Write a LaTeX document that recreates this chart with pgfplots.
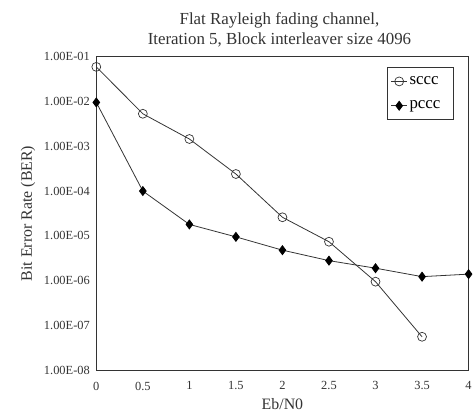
\documentclass[border=0pt]{standalone}
\usepackage{fontspec}
\setmainfont{Liberation Serif}
\usepackage{pgfplots}
\pgfplotsset{compat=1.18}

\definecolor{ink}{HTML}{333333}

\begin{document}
\begin{tikzpicture}
\begin{axis}[
  at={(0pt,0pt)}, anchor=south west,
  scale only axis,
  width=375pt, height=316pt,
  ymode=log,
  xmin=0, xmax=4,
  ymin=1e-8, ymax=1e-1,
  xtick={0,0.5,...,4},
  xticklabels={0,0.5,1,1.5,2,2.5,3,3.5,4},
  ytick={1e-8,1e-7,1e-6,1e-5,1e-4,1e-3,1e-2,1e-1},
  yticklabels={1.00E-08,1.00E-07,1.00E-06,1.00E-05,1.00E-04,1.00E-03,1.00E-02,1.00E-01},
  major tick length=0pt,
  minor tick num=0,
  log basis y=10,
  axis line style={ink, line width=1.1pt},
  tick label style={font=\fontsize{12.5}{14}\selectfont, ink},
  xticklabel style={yshift=-8pt},
  yticklabel style={xshift=-3pt},
  xlabel={Eb/N0},
  ylabel={Bit Error Rate (BER)},
  label style={font=\fontsize{16}{18}\selectfont, ink},
  xlabel style={yshift=-1pt},
  ylabel style={yshift=2pt},
  title style={font=\fontsize{17}{20}\selectfont, ink, align=center, yshift=0pt, xshift=-3pt},
  title={Flat Rayleigh fading channel,\\Iteration 5, Block interleaver size 4096},
  legend style={at={(0.96,0.966)}, anchor=north east, draw=ink, line width=1pt,
    font=\fontsize{17}{19}\selectfont, inner xsep=3pt, inner ysep=7pt, row sep=11pt,
    legend cell align=left},
  legend image code/.code={
    \draw[mark repeat=2,mark phase=2,#1]
      plot coordinates {(0pt,0pt) (8pt,0pt) (16pt,0pt)};},
]
\addplot[ink, line width=0.8pt, mark=o, mark size=4.5pt,
  mark options={line width=0.7pt, fill=none}]
  coordinates {
  (0,5.9e-2) (0.5,5.3e-3) (1,1.45e-3) (1.5,2.4e-4)
  (2,2.6e-5) (2.5,7.4e-6) (3,9.5e-7) (3.5,5.6e-8)
};
\addlegendentry{\makebox[39pt][l]{sccc}}
\addplot[ink, line width=0.8pt, mark=diamond*, mark size=4.5pt,
  mark options={fill=black, draw=black}]
  coordinates {
  (0,9.5e-3) (0.5,1.0e-4) (1,1.8e-5) (1.5,9.5e-6)
  (2,4.8e-6) (2.5,2.8e-6) (3,1.9e-6) (3.5,1.23e-6) (4,1.4e-6)
};
\addlegendentry{\makebox[39pt][l]{pccc}}
\end{axis}
\path[use as bounding box] (-97pt,-45pt) rectangle (378pt,373pt);
\end{tikzpicture}
\end{document}
